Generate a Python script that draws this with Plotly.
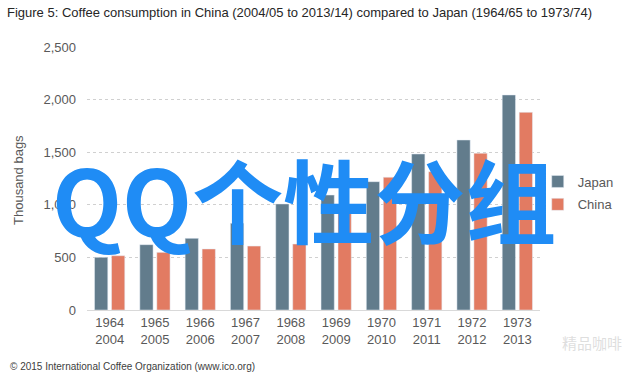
import plotly.graph_objects as go

japan_years = ["1964", "1965", "1966", "1967", "1968", "1969", "1970", "1971", "1972", "1973"]
china_years = ["2004", "2005", "2006", "2007", "2008", "2009", "2010", "2011", "2012", "2013"]
japan_values = [501, 621, 681, 824, 1008, 1093, 1220, 1483, 1616, 2044]
china_values = [516, 548, 580, 608, 627, 970, 1262, 1315, 1490, 1879]
y_ticks = [0, 500, 1000, 1500, 2000, 2500]
y_tick_text = ["0", "500", "1,000", "1,500", "2,000", "2,500"]

categories = [f"{j}<br>{c}" for j, c in zip(japan_years, china_years)]

fig = go.Figure()
fig.add_trace(go.Bar(name="Japan", x=categories, y=japan_values, marker_color="#627c8c", legendgroup="j"))
fig.add_trace(go.Bar(name="China", x=categories, y=china_values, marker_color="#e27b62", legendgroup="c"))

font_main = "Liberation Sans, Arial, sans-serif"
L, T, W, H = 87, 47, 453, 263

fig.update_layout(
    width=640, height=377,
    margin=dict(l=L, r=640 - L - W, t=T, b=377 - T - H, autoexpand=False),
    paper_bgcolor="white", plot_bgcolor="white",
    barmode="group", bargap=0.25, bargroupgap=0.22,
    font=dict(family=font_main, size=13, color="#595959"),
    showlegend=True,
    legend=dict(x=0.995, y=(310 - 193) / H, xanchor="left", yanchor="middle",
                font=dict(size=13, color="#595959"), itemwidth=30,
                tracegroupgap=3),
    xaxis=dict(showline=True, linecolor="#d9d9d9", linewidth=1, ticks="",
               tickfont=dict(size=13, color="#595959"), showgrid=False, automargin=False),
    yaxis=dict(range=[0, 2500], tickvals=y_ticks, ticktext=y_tick_text,
               showgrid=True, gridcolor="#d0d0d0", griddash="dot", gridwidth=1,
               zeroline=False, ticks="", ticklabelstandoff=10, automargin=False,
               tickfont=dict(size=13, color="#595959")),
    annotations=[
        dict(text="Thousand bags", textangle=-90,
             xref="paper", yref="paper", x=(18 - L) / W, y=(310 - 180) / H,
             xanchor="center", yanchor="middle", showarrow=False,
             font=dict(size=13, color="#595959")),
        dict(text="Figure 5: Coffee consumption in China (2004/05 to 2013/14) compared to Japan (1964/65 to 1973/74)",
             xref="paper", yref="paper", x=(5 - L) / W, y=(310 - 12) / H, xanchor="left", yanchor="middle",
             showarrow=False, font=dict(family="Liberation Sans Narrow, Arial Narrow, sans-serif", size=13, color="#262626")),
        dict(text="© 2015 International Coffee Organization (www.ico.org)",
             xref="paper", yref="paper", x=(8 - L) / W, y=(310 - 366) / H, xanchor="left", yanchor="middle",
             showarrow=False, font=dict(size=10, color="#404040")),
        dict(text="精品咖啡",
             xref="paper", yref="paper", x=(560 - L) / W, y=(310 - 342) / H, xanchor="left", yanchor="middle",
             showarrow=False, font=dict(family="Noto Sans CJK SC", size=15, color="rgba(200,200,200,0.6)")),
        dict(text="<b>QQ个性分组</b>",
             xref="paper", yref="paper", x=(304 - L) / W, y=(310 - 197) / H,
             xanchor="center", yanchor="middle", showarrow=False,
             font=dict(family="Noto Sans CJK SC, sans-serif", size=91, color="#1f8cf5")),
    ],
)

fig.write_html("out.html", config={"displayModeBar": False},
               post_script="document.body.style.margin='0';")
